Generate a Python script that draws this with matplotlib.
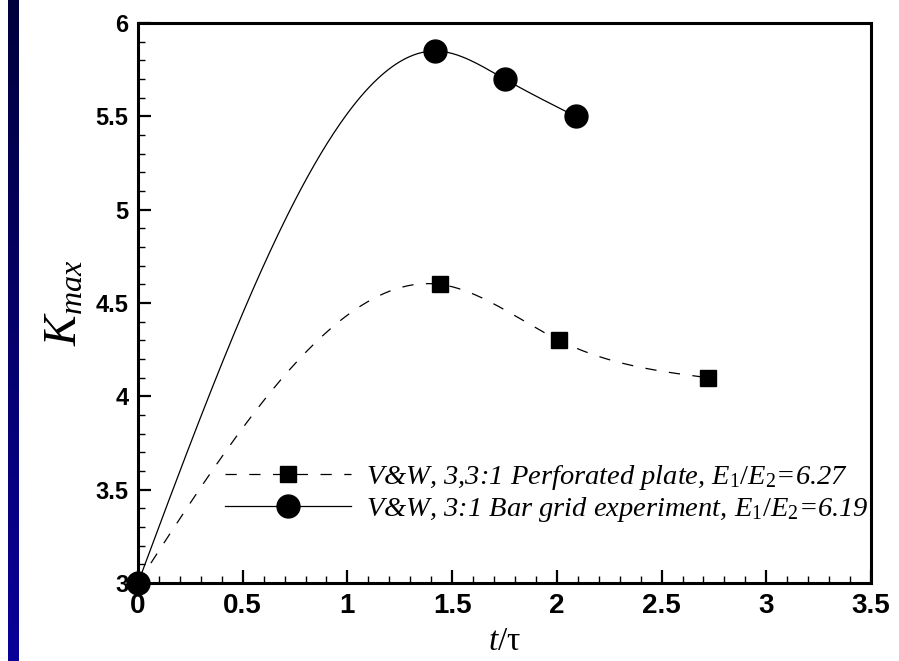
import numpy as np
import matplotlib
matplotlib.use("Agg")
import matplotlib.pyplot as plt
from matplotlib.colors import LinearSegmentedColormap

# data
bar_t = [0.0, 1.42, 1.75, 2.09]
bar_k = [3.0, 5.85, 5.70, 5.50]
plate_t = [0.0, 1.44, 2.01, 2.72]
plate_k = [3.0, 4.60, 4.30, 4.10]

bar_label = r"V&W, 3:1 Bar grid experiment, $\mathit{E_1/E_2}$=6.19"
plate_label = r"V&W, 3,3:1 Perforated plate, $\mathit{E_1/E_2}$=6.27"


def natural_spline(x, y, n=200):
    # plain natural cubic spline, used only to draw the smooth curve through the points
    x = np.asarray(x, float)
    y = np.asarray(y, float)
    m = len(x)
    h = np.diff(x)
    A = np.zeros((m, m))
    b = np.zeros(m)
    A[0, 0] = A[-1, -1] = 1.0
    for i in range(1, m - 1):
        A[i, i - 1] = h[i - 1]
        A[i, i] = 2 * (h[i - 1] + h[i])
        A[i, i + 1] = h[i]
        b[i] = 6 * ((y[i + 1] - y[i]) / h[i] - (y[i] - y[i - 1]) / h[i - 1])
    M = np.linalg.solve(A, b)
    xs = np.linspace(x[0], x[-1], n)
    idx = np.clip(np.searchsorted(x, xs) - 1, 0, m - 2)
    x0, x1 = x[idx], x[idx + 1]
    hh = x1 - x0
    a = (x1 - xs) / hh
    c = (xs - x0) / hh
    ys = (a * y[idx] + c * y[idx + 1]
          + ((a ** 3 - a) * M[idx] + (c ** 3 - c) * M[idx + 1]) * hh ** 2 / 6)
    return xs, ys


plt.rcParams["mathtext.fontset"] = "custom"
plt.rcParams["mathtext.rm"] = "Liberation Serif"
plt.rcParams["mathtext.it"] = "Liberation Serif:italic"

fig = plt.figure(figsize=(8.99, 6.61), dpi=100)

# dark blue strip on the left edge
strip = fig.add_axes([8 / 899, 0, 11 / 899, 1])
cmap = LinearSegmentedColormap.from_list("strip", ["#00003c", "#0a0099"])
strip.imshow(np.linspace(0, 1, 256).reshape(-1, 1), aspect="auto", cmap=cmap)
strip.axis("off")

ax = fig.add_axes([138 / 899, 1 - 583 / 661, 733 / 899, 560 / 661])

dash = (9, 10)
xs, ys = natural_spline(plate_t, plate_k)
ax.plot(xs, ys, color="black", lw=0.9, dashes=dash)
ax.plot(plate_t, plate_k, ls="none", marker="s", ms=12, color="black", clip_on=False)

xs, ys = natural_spline(bar_t, bar_k)
ax.plot(xs, ys, color="black", lw=0.9)
ax.plot(bar_t, bar_k, ls="none", marker="o", ms=16.5, color="black", clip_on=False)

# legend handles
h1, = ax.plot([], [], color="black", lw=0.9, dashes=dash, marker="s", ms=12)
h2, = ax.plot([], [], color="black", lw=0.9, marker="o", ms=16.5)
ax.legend([h1, h2], [plate_label, bar_label], loc="center left",
          bbox_to_anchor=(0.119, 0.16), frameon=False, borderpad=0,
          borderaxespad=0, handlelength=4.4, handletextpad=0.55, labelspacing=0.12,
          prop={"family": "Liberation Serif", "style": "italic", "size": 20.5})

ax.set_xlim(0, 3.5)
ax.set_ylim(3, 6)
ax.set_xticks(np.arange(0, 3.51, 0.5))
ax.set_yticks(np.arange(3, 6.01, 0.5))
ax.set_xticks(np.arange(0, 3.51, 0.1), minor=True)
ax.set_yticks(np.arange(3, 6.01, 0.1), minor=True)
ax.set_xticklabels(["0", "0.5", "1", "1.5", "2", "2.5", "3", "3.5"])
ax.set_yticklabels(["3", "3.5", "4", "4.5", "5", "5.5", "6"])
ax.tick_params(which="both", direction="in", top=False, right=False)
ax.tick_params(which="major", length=9.5, width=1.6)
ax.tick_params(which="minor", length=5, width=1.0)
ax.tick_params(axis="x", pad=7)
ax.tick_params(axis="y", pad=7)
for lab in ax.get_xticklabels():
    lab.set_fontfamily("Liberation Sans")
    lab.set_fontweight("bold")
    lab.set_fontsize(20)
for lab in ax.get_yticklabels():
    lab.set_fontfamily("Liberation Sans")
    lab.set_fontweight("bold")
    lab.set_fontsize(17)
for s in ax.spines.values():
    s.set_linewidth(2.2)

ax.set_ylabel(r"$K_{max}$", fontsize=33)
ax.yaxis.set_label_coords(-0.07, 0.5)
ax.set_xlabel(r"$t$/τ", fontsize=24, family="Liberation Serif")
ax.xaxis.set_label_coords(0.5, -0.078)

fig.savefig("out.png", dpi=100)
